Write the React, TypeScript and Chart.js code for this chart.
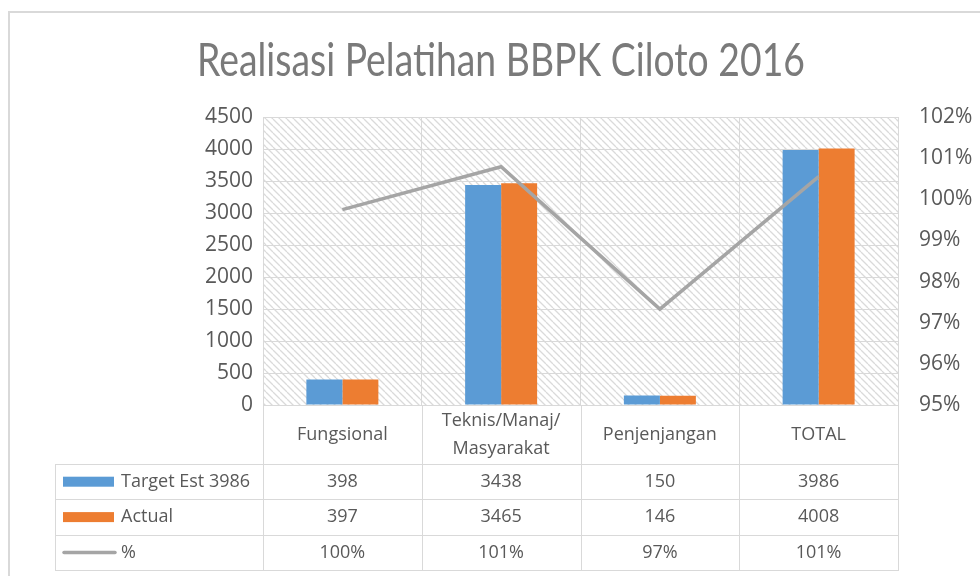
import { useEffect, useRef } from 'react';
import { Chart, registerables } from 'chart.js';

Chart.register(...registerables);

const chartTitle = 'Realisasi Pelatihan BBPK Ciloto 2016';
const categories = ['Fungsional', 'Teknis/Manaj/\nMasyarakat', 'Penjenjangan', 'TOTAL'];
const seriesNames = ['Target Est 3986', 'Actual', '%'];
const targetValues = [398, 3438, 150, 3986];
const actualValues = [397, 3465, 146, 4008];
const percentValues = [99.75, 100.79, 97.33, 100.55];
const percentLabels = ['100%', '101%', '97%', '101%'];
const leftAxis = { min: 0, max: 4500, step: 500 };
const rightAxis = { min: 95, max: 102, step: 1 };

const BLUE = '#5b9bd5';
const ORANGE = '#ed7d31';
const GRAY = '#a5a5a5';
const GRID = '#d9d9d9';
const TEXT = '#595959';
const FONT = "'Open Sans', sans-serif";

function makeHatch(): CanvasPattern | null {
  const c = document.createElement('canvas');
  const s = 7;
  c.width = s;
  c.height = s;
  const g = c.getContext('2d');
  if (!g) return null;
  g.strokeStyle = '#dadada';
  g.lineWidth = 1.3;
  g.beginPath();
  for (const k of [-s, 0, s]) {
    g.moveTo(k, 0);
    g.lineTo(k + s, s);
  }
  g.stroke();
  return g.createPattern(c, 'repeat');
}

const decorPlugin = {
  id: 'decor',
  beforeDraw(chart: any) {
    const { ctx, chartArea } = chart;
    ctx.save();
    // outer frame
    ctx.strokeStyle = GRID;
    ctx.lineWidth = 2;
    ctx.strokeRect(9, 12, 1200, 900);
    // hatched plot background
    const pat = makeHatch();
    if (pat) {
      ctx.fillStyle = pat;
      ctx.fillRect(chartArea.left, chartArea.top, chartArea.right - chartArea.left, chartArea.bottom - chartArea.top);
    }
    ctx.restore();
  },
  afterDraw(chart: any) {
    const { ctx, chartArea } = chart;
    const L = chartArea.left;
    const R = chartArea.right;
    const B = chartArea.bottom;
    const n = categories.length;
    const colW = (R - L) / n;
    const legendLeft = 55;
    const headerBottom = B + 59;
    const rowH = 35.4;
    const tableBottom = headerBottom + rowH * 3;

    ctx.save();
    // title
    ctx.fillStyle = '#7a7a7a';
    ctx.font = `400 46px Lato, ${FONT}`;
    ctx.textBaseline = 'alphabetic';
    ctx.textAlign = 'left';
    const tw = ctx.measureText(chartTitle).width;
    const targetW = 608;
    ctx.save();
    ctx.translate(197, 76);
    ctx.scale(targetW / tw, 1);
    ctx.fillText(chartTitle, 0, 0);
    ctx.restore();

    // table lines
    ctx.strokeStyle = GRID;
    ctx.lineWidth = 1;
    ctx.beginPath();
    for (let i = 0; i <= n; i++) {
      const x = Math.round(L + i * colW) + 0.5;
      ctx.moveTo(x, B);
      ctx.lineTo(x, tableBottom);
    }
    ctx.moveTo(legendLeft + 0.5, headerBottom);
    ctx.lineTo(legendLeft + 0.5, tableBottom);
    for (let r = 0; r <= 3; r++) {
      const y = Math.round(headerBottom + r * rowH) + 0.5;
      ctx.moveTo(legendLeft, y);
      ctx.lineTo(R + 1, y);
    }
    ctx.stroke();

    // table text
    ctx.fillStyle = TEXT;
    ctx.font = `18px ${FONT}`;
    ctx.textAlign = 'center';
    ctx.textBaseline = 'middle';
    categories.forEach((c, i) => {
      const cx = L + (i + 0.5) * colW;
      const lines = c.split('\n');
      if (lines.length === 1) {
        ctx.fillText(lines[0], cx, B + 30);
      } else {
        ctx.fillText(lines[0], cx, B + 16);
        ctx.fillText(lines[1], cx, B + 44);
      }
    });
    const rowsData = [targetValues.map(String), actualValues.map(String), percentLabels];
    rowsData.forEach((row, r) => {
      const cy = headerBottom + (r + 0.5) * rowH;
      row.forEach((v, i) => {
        ctx.fillText(v, L + (i + 0.5) * colW, cy);
      });
    });

    // legend keys
    const keyColors = [BLUE, ORANGE, GRAY];
    seriesNames.forEach((name, r) => {
      const cy = headerBottom + (r + 0.5) * rowH;
      if (r < 2) {
        ctx.fillStyle = keyColors[r];
        ctx.fillRect(63, cy - 5, 51, 10);
      } else {
        ctx.strokeStyle = GRAY;
        ctx.lineWidth = 3.5;
        ctx.lineCap = 'round';
        ctx.beginPath();
        ctx.moveTo(64, cy);
        ctx.lineTo(115, cy);
        ctx.stroke();
      }
      ctx.fillStyle = TEXT;
      ctx.textAlign = 'left';
      ctx.fillText(name, 121, cy);
    });
    ctx.restore();
  },
};

export default function App() {
  const ref = useRef<HTMLCanvasElement | null>(null);

  useEffect(() => {
    if (!ref.current) return;
    const chart = new Chart(ref.current, {
      type: 'bar',
      data: {
        labels: categories,
        datasets: [
          {
            type: 'line',
            label: seriesNames[2],
            data: percentValues,
            yAxisID: 'y1',
            borderColor: GRAY,
            backgroundColor: GRAY,
            borderWidth: 3.5,
            pointRadius: 0,
            tension: 0,
            order: 0,
          } as any,
          {
            label: seriesNames[0],
            data: targetValues,
            yAxisID: 'y',
            backgroundColor: BLUE,
            categoryPercentage: 0.4535,
            barPercentage: 1,
            order: 1,
          },
          {
            label: seriesNames[1],
            data: actualValues,
            yAxisID: 'y',
            backgroundColor: ORANGE,
            categoryPercentage: 0.4535,
            barPercentage: 1,
            order: 1,
          },
        ],
      },
      options: {
        responsive: false,
        animation: false,
        devicePixelRatio: 1,
        layout: { padding: { top: 117, bottom: 171, left: 0, right: 0 } },
        plugins: {
          legend: { display: false },
          tooltip: { enabled: false },
          title: { display: false },
        },
        scales: {
          x: {
            offset: true,
            grid: { color: GRID, drawTicks: false, offset: true },
            border: { color: GRID },
            ticks: { display: false },
            afterFit: (s: any) => {
              s.height = 0;
            },
          },
          y: {
            position: 'left',
            min: leftAxis.min,
            max: leftAxis.max,
            grid: { color: GRID, drawTicks: false },
            border: { display: false },
            ticks: {
              stepSize: leftAxis.step,
              color: TEXT,
              font: { family: FONT, size: 21 },
              padding: 10,
              callback: (v: any) => String(v),
            },
            afterFit: (s: any) => {
              s.width = 263;
            },
          },
          y1: {
            position: 'right',
            min: rightAxis.min,
            max: rightAxis.max,
            grid: { display: false, drawTicks: false },
            border: { display: false },
            ticks: {
              stepSize: rightAxis.step,
              color: TEXT,
              font: { family: FONT, size: 21 },
              padding: 21,
              callback: (v: any) => `${v}%`,
            },
            afterFit: (s: any) => {
              s.width = 82;
            },
          },
        },
      },
      plugins: [decorPlugin],
    });
    return () => chart.destroy();
  }, []);

  return (
    <div style={{ position: 'absolute', left: 0, top: 0, width: 980, height: 576, background: '#ffffff' }}>
      <canvas ref={ref} width={980} height={576} style={{ display: 'block', width: 980, height: 576 }} />
    </div>
  );
}
